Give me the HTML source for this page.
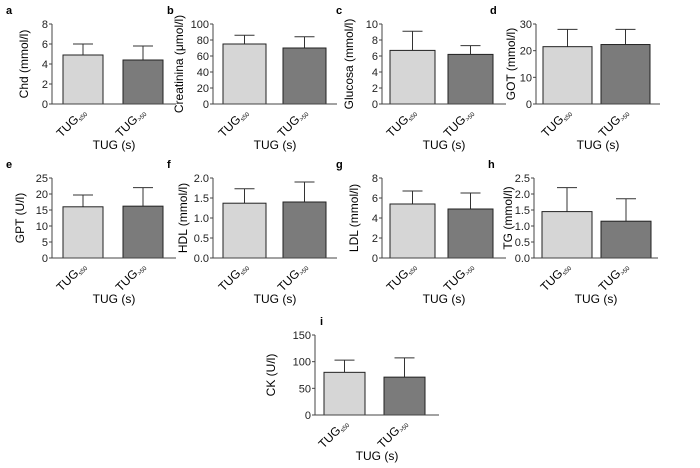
<!DOCTYPE html>
<html><head><meta charset="utf-8"><style>
body{margin:0;background:#fff}
#wrap{position:relative;width:700px;height:468px;overflow:hidden}
svg{display:block;font-family:"Liberation Sans",sans-serif}
.xl{position:absolute;font-family:"Liberation Sans",sans-serif;font-size:12px;line-height:12px;white-space:nowrap;transform-origin:100% 100%;transform:rotate(-45deg);color:#000}
.xl sub{font-size:6px;vertical-align:-2px}
</style></head><body>
<div id="wrap">
<svg id="fig" width="700" height="468" viewBox="0 0 700 468"></svg>
</div>
<script>
const panelLetters=["a","b","c","d","e","f","g","h","i"];
const yLabels=["Chd (mmol/l)","Creatinina (μmol/l)","Glucosa (mmol/l)","GOT (mmol/l)","GPT (U/l)","HDL (mmol/l)","LDL (mmol/l)","TG (mmol/l)","CK (U/l)"];
const categories=["≤50",">50"];
const meansLow=[4.9,75,6.7,21.5,16,1.37,5.4,1.45,80];
const meansHigh=[4.4,70,6.2,22.3,16.2,1.4,4.9,1.15,71];
const errLow=[1.1,11,2.4,6.5,3.7,0.36,1.3,0.75,23];
const errHigh=[1.4,14,1.1,5.7,5.8,0.5,1.6,0.7,36];
const tickLabels=[["0","2","4","6","8"],["0","20","40","60","80","100"],["0","2","4","6","8","10"],["0","10","20","30"],["0","5","10","15","20","25"],["0.0","0.5","1.0","1.5","2.0"],["0","2","4","6","8"],["0.0","0.5","1.0","1.5","2.0","2.5"],["0","50","100","150"]];
const axisX=[52,213,382,536,52,213,382,534,315];
const axisTop=[24,24,24,24,178,178,178,178,335];
const barOff=[11,10,8,7,11,10,8,8,9];
const barW=[40,43,45,49,40,43,45,50,41];
const barGap=[60,60,58,58,60,60,58,59,60];
const ylabOff=[20,26,25,17,24,22,20,18,36];
const NS="http://www.w3.org/2000/svg";
const svg=document.getElementById('fig');
const wrap=document.getElementById('wrap');
function mk(tag,attrs,parent){const e=document.createElementNS(NS,tag);for(const k in attrs)e.setAttribute(k,attrs[k]);(parent||svg).appendChild(e);return e;}
for(let p=0;p<9;p++){
  const g=mk('g',{});
  
  
  const ox=axisX[p],top=axisTop[p],bot=top+80;
  const ticks=tickLabels[p];
  const ymax=parseFloat(ticks[ticks.length-1]);
  const y=v=>bot-(v/ymax)*(bot-top);
  const lt=mk('text',{x:p==8?ox+5:ox-46,y:top-10,'font-size':11,'font-weight':'bold'},g);lt.textContent=panelLetters[p];
  
  
  const means=[meansLow[p],meansHigh[p]],errs=[errLow[p],errHigh[p]],fills=["#d6d6d6","#7b7b7b"];
  const bw=barW[p];
  for(let i=0;i<2;i++){
    const bx=ox+barOff[p]+i*barGap[p],cx=bx+bw/2;
    const e=mk('line',{x1:cx,x2:cx,y1:y(means[i]),y2:y(means[i]+errs[i]),stroke:'#333','stroke-width':1},g);
    
    
    const c=mk('line',{x1:cx-10,x2:cx+10,y1:y(means[i]+errs[i]),y2:y(means[i]+errs[i]),stroke:'#333','stroke-width':1},g);
    
    
    const r=mk('rect',{x:bx,y:y(means[i]),width:bw,height:bot-y(means[i]),fill:fills[i],stroke:'#222','stroke-width':1},g);
    
    
    const d=document.createElement('div');
    d.className='xl';
    
    
    d.innerHTML='TUG<sub>'+categories[i]+'</sub>';
    wrap.appendChild(d);
    const w=d.offsetWidth,h=d.offsetHeight;
    d.style.left=(cx+8-w)+'px';
    d.style.top=(bot+14-h)+'px';
  }
  const ya=mk('line',{x1:ox,x2:ox,y1:top,y2:bot,stroke:'#444'},g);
  
  
  const xa=mk('line',{x1:ox,x2:ox+124,y1:bot,y2:bot,stroke:'#444'},g);
  
  
  ticks.forEach(tl=>{
    const ty=y(parseFloat(tl));
    mk('line',{x1:ox-3,x2:ox,y1:ty,y2:ty,stroke:'#444'},g);
    const tt=mk('text',{x:ox-4,y:ty+4,'text-anchor':'end','font-size':11,fill:'#222'},g);
    
    
    tt.textContent=tl;
  });
  const lx=ox-ylabOff[p]-8,ly=(top+bot)/2;
  const yg=mk('g',{transform:`translate(${lx} ${ly}) rotate(-90)`},g);
  const yl=mk('text',{x:0,y:4,'text-anchor':'middle','font-size':12},yg);
  
  
  yl.textContent=yLabels[p];
  const xt=mk('text',{x:ox+62,y:bot+45,'text-anchor':'middle','font-size':12},g);
  
  
  xt.textContent='TUG (s)';
}
</script>
</body></html>
